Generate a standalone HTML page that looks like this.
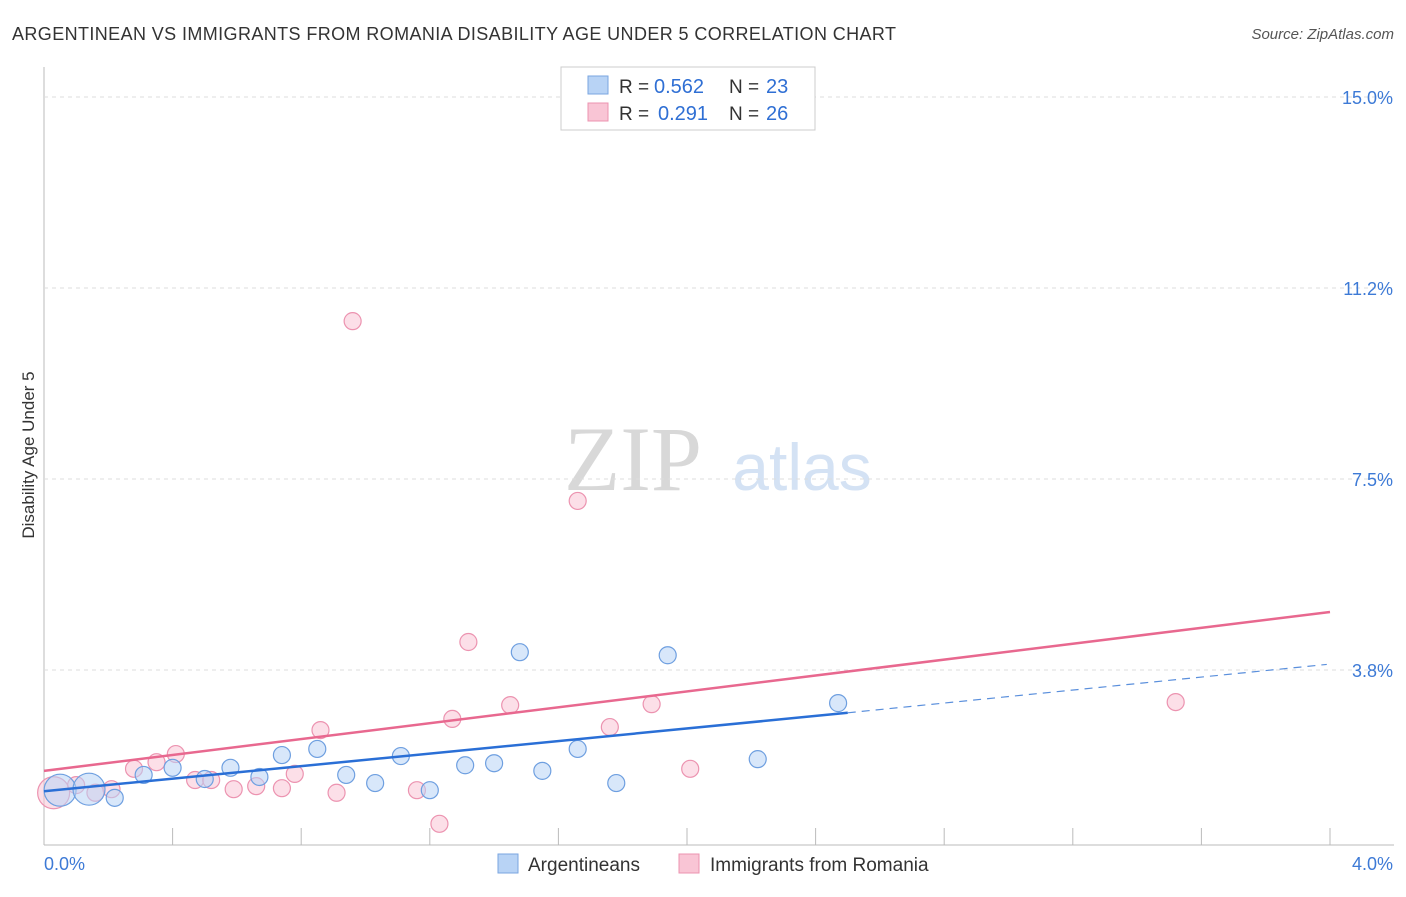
<!DOCTYPE html>
<html><head><meta charset="utf-8"><style>
body{margin:0;background:#fff;font-family:"Liberation Sans",sans-serif;}
svg text{font-family:"Liberation Sans",sans-serif;}
</style></head><body>
<svg id="c" width="1406" height="892">
<text x="12" y="40" font-size="18" fill="#333" textLength="884" lengthAdjust="spacing">ARGENTINEAN VS IMMIGRANTS FROM ROMANIA DISABILITY AGE UNDER 5 CORRELATION CHART</text>
<text x="1394" y="39" font-size="15" fill="#555" font-style="italic" text-anchor="end">Source: ZipAtlas.com</text>
<text x="34" y="455" font-size="17" fill="#333" text-anchor="middle" transform="rotate(-90 34 455)">Disability Age Under 5</text>
<text x="633" y="490" font-size="92" fill="#d8d8d8" style="font-family:'Liberation Serif',serif" text-anchor="middle">ZIP</text>
<text x="802" y="490" font-size="66" fill="#d4e2f4" text-anchor="middle">atlas</text>
<g id="grid"></g><g id="marks"></g>
<g>
<rect x="561" y="67" width="254" height="63" fill="#fff" stroke="#ccc"/>
<rect x="588" y="76" width="20" height="18" fill="#b8d3f5" stroke="#7aa6e0"/>
<text x="619" y="93" font-size="19" fill="#333">R =</text>
<text x="654" y="93" font-size="20" fill="#2f6fd4">0.562</text>
<text x="729" y="93" font-size="19" fill="#333">N =</text>
<text x="766" y="93" font-size="20" fill="#2f6fd4">23</text>
<rect x="588" y="103" width="20" height="18" fill="#f9c5d5" stroke="#ec93b0"/>
<text x="619" y="120" font-size="19" fill="#333">R =</text>
<text x="658" y="120" font-size="20" fill="#2f6fd4">0.291</text>
<text x="729" y="120" font-size="19" fill="#333">N =</text>
<text x="766" y="120" font-size="20" fill="#2f6fd4">26</text>
</g>
<g>
<rect x="498" y="854" width="20" height="19" fill="#b8d3f5" stroke="#7aa6e0"/>
<text x="528" y="871" font-size="19" fill="#333">Argentineans</text>
<rect x="679" y="854" width="20" height="19" fill="#f9c5d5" stroke="#ec93b0"/>
<text x="710" y="871" font-size="19" fill="#333">Immigrants from Romania</text>
</g>
</svg>
<script>
const yTicks=[3.75,7.5,11.25,15];
const yTickLabels=["3.8%","7.5%","11.2%","15.0%"];
const xTicks=[0,0.4,0.8,1.2,1.6,2.0,2.4,2.8,3.2,3.6,4.0];
const blueX=[0.05,0.14,0.22,0.31,0.40,0.50,0.58,0.67,0.74,0.85,0.94,1.03,1.11,1.20,1.31,1.40,1.48,1.55,1.66,1.78,1.94,2.22,2.47];
const blueY=[1.39,1.41,1.24,1.69,1.83,1.61,1.83,1.65,2.08,2.20,1.69,1.53,2.06,1.39,1.88,1.92,4.10,1.77,2.20,1.53,4.04,2.00,3.10];
const pinkX=[0.03,0.10,0.16,0.21,0.28,0.35,0.41,0.47,0.52,0.59,0.66,0.74,0.78,0.86,0.91,0.96,1.16,1.23,1.27,1.32,1.45,1.66,1.76,1.89,2.01,3.52];
const pinkY=[1.34,1.49,1.34,1.41,1.81,1.94,2.10,1.59,1.59,1.41,1.47,1.43,1.71,2.57,1.34,10.60,1.39,0.73,2.79,4.30,3.06,7.07,2.63,3.08,1.81,3.12];
const blueTrend=[[0,1.37],[2.5,2.91]];
const blueDash=[[2.5,2.91],[3.99,3.86]];
const pinkTrend=[[0,1.77],[4.0,4.89]];
const X=v=>44+v/4*1286, Y=v=>861-v*50.93;
const NS="http://www.w3.org/2000/svg";
function mk(t,a,p){const e=document.createElementNS(NS,t);for(const k in a)e.setAttribute(k,a[k]);p.appendChild(e);return e;}
const g=document.getElementById('grid'),m=document.getElementById('marks');
let ax=mk('line',{x1:44,y1:67,x2:44,y2:845,stroke:'#bbb'},g);

let bx=mk('line',{x1:44,y1:845,x2:1394,y2:845,stroke:'#bbb'},g);

yTicks.forEach((t,i)=>{
 let l=mk('line',{x1:44,y1:Y(t),x2:1394,y2:Y(t),stroke:'#ddd','stroke-dasharray':'4,4'},g);
 
 let tx=mk('text',{x:1393,y:Y(t)+7,'font-size':18,fill:'#3d7ad6','text-anchor':'end'},g);tx.textContent=yTickLabels[i];
 
});
xTicks.forEach(t=>{let l=mk('line',{x1:X(t),y1:828,x2:X(t),y2:845,stroke:'#bbb'},g);
 });
let x0=mk('text',{x:44,y:870,'font-size':18,fill:'#3d7ad6'},g);x0.textContent='0.0%';

let x1=mk('text',{x:1393,y:870,'font-size':18,fill:'#3d7ad6','text-anchor':'end'},g);x1.textContent='4.0%';

function pts(xs,ys,fill,stroke,name){xs.forEach((x,i)=>{const r=i<2&&name=='blue'?16:(i==0?16:8.5);
 let c=mk('circle',{cx:X(x),cy:Y(ys[i]),r:r,fill:fill,'fill-opacity':0.55,stroke:stroke,'stroke-width':1.2},m);
 });}
pts(pinkX,pinkY,'#f9c5d5','#ec93b0','pink');
pts(blueX,blueY,'#b8d3f5','#6e9fe0','blue');
function ln(p,col,w,dash,name){let l=mk('line',{x1:X(p[0][0]),y1:Y(p[0][1]),x2:X(p[1][0]),y2:Y(p[1][1]),stroke:col,'stroke-width':w},m);
 if(dash)l.setAttribute('stroke-dasharray',dash);
 }
ln(pinkTrend,'#e8688f',2.5,null,'pink-trend-line');
ln(blueTrend,'#2a6fd6',2.5,null,'blue-trend-line');
ln(blueDash,'#5a8fdc',1.2,'8,6','blue-trend-extension');
</script>
</body></html>
